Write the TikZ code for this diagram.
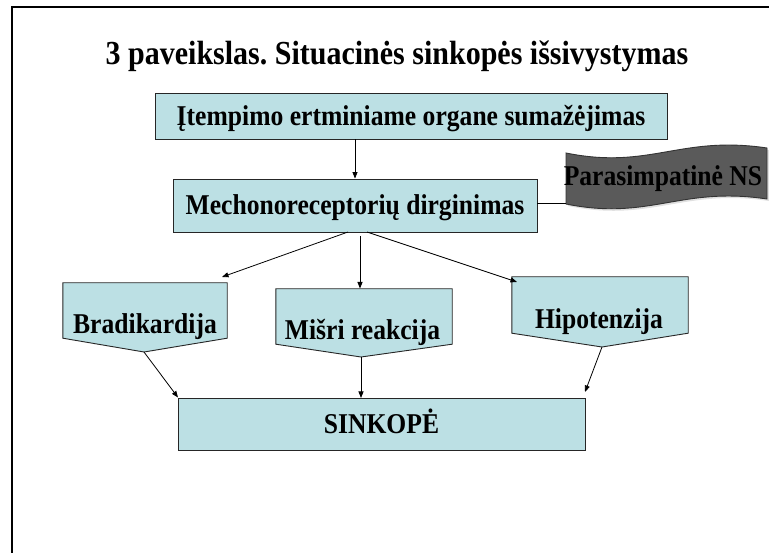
\documentclass[tikz,border=0pt]{standalone}
\usepackage{fontspec}
\usepackage{graphicx}
\setmainfont{Liberation Serif}
\frenchspacing
\usetikzlibrary{arrows.meta}
\definecolor{boxfill}{RGB}{188,224,228}
\definecolor{wavefill}{RGB}{90,90,90}
\newcommand{\tall}[1]{\scalebox{1}[1.12]{#1}}
\tikzset{
  box/.style={draw=black!85, line width=0.9pt, fill=boxfill},
  rectbox/.style={box, inner sep=0pt, text height=19pt, text depth=0pt,
    font=\fontsize{25.6}{30}\selectfont\bfseries},
  shapeframe/.style={inner sep=0pt, draw=none, fill=none},
  lbl/.style={inner sep=0pt, text height=19pt, text depth=0pt,
    font=\fontsize{25.6}{30}\selectfont\bfseries},
  wave/.style={draw=black!80, line width=0.9pt, fill=wavefill},
  conn/.style={draw=black, line width=0.8pt, -{Triangle[length=6.5pt,width=5pt]}},
  plain/.style={draw=black, line width=0.8pt},
}
\begin{document}
\begin{tikzpicture}[x=1pt,y=-1pt]
\useasboundingbox (0,0) rectangle (769,553);
\fill[white] (0,0) rectangle (769,553);
\draw[line width=2.5pt] (12,553) -- (12,7) -- (769,7);

% title
\node[inner sep=0pt, anchor=base, font=\fontsize{30}{36}\selectfont\bfseries] (title) at (397,65)
  {\tall{3 paveikslas. Situacinės sinkopės išsivystymas}};

% top boxes
\node[rectbox, minimum width=512pt, minimum height=46pt] (b1) at (411,116)
  {\tall{Įtempimo ertminiame organe sumažėjimas}};
\node[rectbox, minimum width=364pt, minimum height=53pt] (b2) at (355,205.5)
  {\tall{Mechonoreceptorių dirginimas}};

% wave shape
\coordinate (wl) at (566,204);
\fill[black!12] (568,155) .. controls (652,172) and (682,137) .. (769,150)
  -- (769,201) .. controls (682,188) and (652,223) .. (568,206) -- cycle;
\filldraw[wave] (566,153) .. controls (650,170) and (680,135) .. (767,148)
  -- (767,199) .. controls (680,186) and (650,221) .. (566,204) -- cycle;
\node[lbl] (para) at (663,176) {\tall{Parasimpatinė NS}};

% pentagon boxes
\node[shapeframe, minimum width=164pt, minimum height=55pt] (brad) at (145,310.5) {};
\coordinate (bradtip) at (144,352);
\filldraw[box] (brad.north west) -- (brad.north east) -- (brad.south east)
  -- (bradtip) -- (brad.south west) -- cycle;
\node[lbl] (bradtxt) at (145,324) {\tall{Bradikardija}};

\node[shapeframe, minimum width=176pt, minimum height=55pt] (misr) at (364,316.5) {};
\coordinate (misrtip) at (361,357);
\filldraw[box] (misr.north west) -- (misr.north east) -- (misr.south east)
  -- (misrtip) -- (misr.south west) -- cycle;
\node[lbl] (misrtxt) at (362.5,330.5) {\tall{Mišri reakcija}};

\node[shapeframe, minimum width=176pt, minimum height=56pt] (hipo) at (600,305) {};
\coordinate (hipotip) at (602,347);
\filldraw[box] (hipo.north west) -- (hipo.north east) -- (hipo.south east)
  -- (hipotip) -- (hipo.south west) -- cycle;
\node[lbl] (hipotxt) at (599,319) {\tall{Hipotenzija}};

% bottom box
\node[rectbox, minimum width=407pt, minimum height=52pt] (sink) at (381.5,424) {\tall{SINKOPĖ}};

% connector ends
\coordinate (s1) at (348,232);
\coordinate (s2) at (360,236);
\coordinate (s3) at (367,232);
\coordinate (e1) at (222,277);
\coordinate (e2) at (360,288.5);
\coordinate (e3) at (517,282);
\coordinate (f1) at (178,397.5);
\coordinate (f2) at (361,398);
\coordinate (f3) at (585,392);

% connectors
\draw[conn] (b1.south -| b2.north) -- (b2.north);
\draw[plain] ([yshift=2.5pt]b2.east) -- ([yshift=2.5pt]b2.east -| wl);
\draw[conn] (s1) -- (e1);
\draw[conn] (s2) -- (e2);
\draw[conn] (s3) -- (e3);
\draw[conn] (bradtip) -- (f1);
\draw[conn] (misrtip) -- (f2);
\draw[conn] (hipotip) -- (f3);
\end{tikzpicture}
\end{document}
